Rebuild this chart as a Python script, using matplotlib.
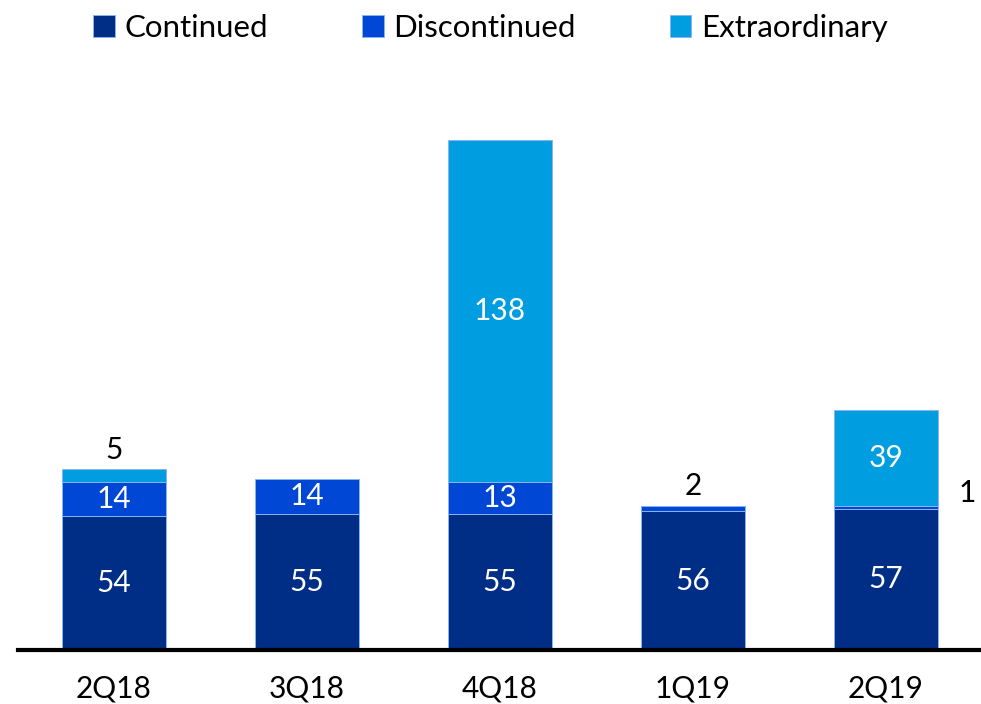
import matplotlib.pyplot as plt
import numpy as np

plt.rcParams['font.family'] = ['Lato', 'DejaVu Sans']

# data ------------------------------------------------------------
quarters = ["2Q18", "3Q18", "4Q18", "1Q19", "2Q19"]
continued = [54, 55, 55, 56, 57]
discontinued = [14, 14, 13, 2, 1]
extraordinary = [5, 0, 138, 0, 39]

c_cont = "#002D86"
c_disc = "#0047D6"
c_extra = "#009DE0"

fig = plt.figure(figsize=(9.81, 7.04), dpi=100)
ax = fig.add_axes([17.5/981, 54/704, 965/981, 550/704])

x = np.arange(len(quarters))
w = 0.54
cont = np.array(continued)
disc = np.array(discontinued)
extra = np.array(extraordinary)

edge = dict(edgecolor="#8ab4f0", linewidth=0.7)
b1 = ax.bar(x, cont, w, color=c_cont, label="Continued", **edge)
b2 = ax.bar(x, disc, w, bottom=cont, color=c_disc, label="Discontinued", **edge)
b3 = ax.bar(x, extra, w, bottom=cont + disc, color=c_extra, label="Extraordinary", **edge)

fs = 21.5

# labels inside / outside segments
for i in range(len(quarters)):
    ax.text(x[i], cont[i] / 2, str(cont[i]), ha="center", va="center", color="white", fontsize=fs)
    # discontinued
    if disc[i] >= 10:
        ax.text(x[i], cont[i] + disc[i] / 2, str(disc[i]), ha="center", va="center", color="white", fontsize=fs)
    elif extra[i] == 0:
        ax.text(x[i], cont[i] + disc[i] + 2.5, str(disc[i]), ha="center", va="bottom", color="black", fontsize=fs)
    else:
        ax.text(x[i] + w / 2 + 0.15, cont[i] + disc[i] + 5.5, str(disc[i]), ha="center", va="center", color="black", fontsize=fs)
    # extraordinary
    if extra[i] >= 10:
        ax.text(x[i], cont[i] + disc[i] + extra[i] / 2, str(extra[i]), ha="center", va="center", color="white", fontsize=fs)
    elif extra[i] > 0:
        ax.text(x[i], cont[i] + disc[i] + extra[i] + 2.0, str(extra[i]), ha="center", va="bottom", color="black", fontsize=fs)

ax.set_xlim(-0.5, 4.5)
ax.set_ylim(0, 222)
ax.set_xticks(x)
ax.set_xticklabels(quarters, fontsize=fs)
ax.tick_params(axis="x", length=0, pad=18)
ax.set_yticks([])
for s in ["top", "right", "left"]:
    ax.spines[s].set_visible(False)
ax.spines["bottom"].set_linewidth(3)
ax.spines["bottom"].set_color("black")

fig.legend(handles=[b1, b2, b3], loc="upper center", bbox_to_anchor=(0.5, 1.02), ncol=3,
           frameon=False, fontsize=fs + 1, handlelength=0.7, handleheight=0.7,
           handletextpad=0.3, columnspacing=3.0)

fig.savefig("out.png", dpi=100)
